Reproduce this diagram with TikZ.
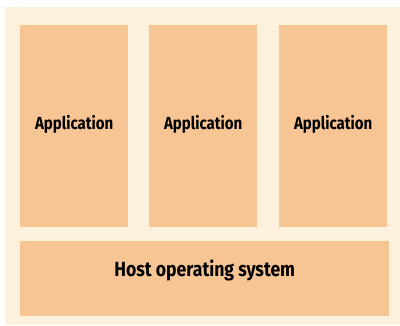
\documentclass[tikz,border=0pt]{standalone}
\usepackage{fontspec}
\setmainfont{Fira Sans}
\newfontfamily\condfont[FakeStretch=0.86]{Fira Sans}
\definecolor{cream}{HTML}{FDF0DC}
\definecolor{tan}{HTML}{F7C594}
\begin{document}
\begin{tikzpicture}[x=1pt,y=-1pt,font=\condfont\bfseries,
    appbox/.style={fill=tan,inner sep=0pt,anchor=north west,minimum width=108pt,minimum height=202pt},
    hostbox/.style={fill=tan,inner sep=0pt,anchor=north west,minimum width=369pt,minimum height=75pt},
    applabel/.style={anchor=base,inner sep=0pt,font=\condfont\bfseries\fontsize{17.5}{20}\selectfont},
    hostlabel/.style={anchor=base,inner sep=0pt,font=\condfont\bfseries\fontsize{20.5}{24}\selectfont}]
    \useasboundingbox (0,0) rectangle (400,325);
    % background
    \fill[cream] (5,7) rectangle (400,325);
    % application boxes
    \node[appbox] (app1) at (20,25) {};
    \node[appbox] (app2) at (149,25) {};
    \node[appbox] (app3) at (279,25) {};
    \node[hostbox] (host) at (20,241) {};
    % labels
    \node[applabel] (lbl1) at ([yshift=-3pt]app1.center) {Application};
    \node[applabel] (lbl2) at ([yshift=-3pt]app2.center) {Application};
    \node[applabel] (lbl3) at ([yshift=-3pt]app3.center) {Application};
    \node[hostlabel] (lblh) at ([yshift=2.5pt]host.center) {Host operating system};
\end{tikzpicture}
\end{document}
